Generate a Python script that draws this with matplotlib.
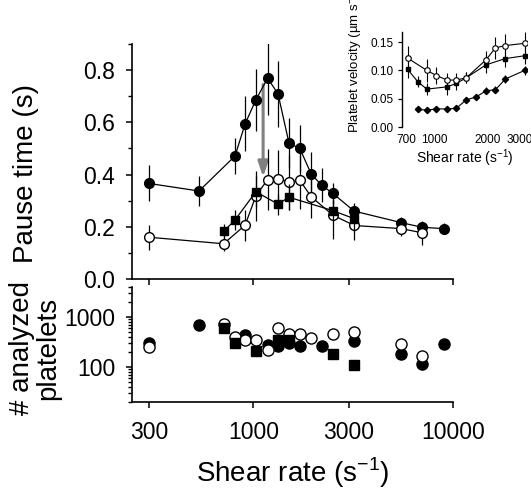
import numpy as np
import matplotlib
matplotlib.use("Agg")
import matplotlib.pyplot as plt
from matplotlib.ticker import FixedLocator, NullFormatter, LogLocator, NullLocator

plt.rcParams['font.family'] = ['Liberation Sans', 'DejaVu Sans']

# -------------------------
# Data: pause time (top panel)
# -------------------------
filled_x = [300, 535, 810, 910, 1030, 1180, 1330, 1510, 1710, 1950, 2200, 2500, 3200, 5500, 7000, 9000]
filled_y = [0.366, 0.337, 0.471, 0.594, 0.686, 0.769, 0.709, 0.52, 0.50, 0.402, 0.359, 0.328, 0.26, 0.216, 0.198, 0.193]
filled_err = [0.069, 0.059, 0.069, 0.105, 0.12, 0.14, 0.126, 0.095, 0.09, 0.085, 0.065, 0.04, 0.03, 0.02, 0.02, 0.02]

open_x = [300, 710, 910, 1030, 1180, 1330, 1510, 1710, 1950, 2500, 3200, 5500, 7000]
open_y = [0.16, 0.135, 0.206, 0.318, 0.381, 0.384, 0.371, 0.378, 0.315, 0.245, 0.205, 0.193, 0.177]
open_err = [0.048, 0.028, 0.059, 0.097, 0.115, 0.11, 0.105, 0.11, 0.083, 0.09, 0.055, 0.03, 0.045]

sq_x = [710, 810, 1030, 1330, 1510, 2500, 3200]
sq_y = [0.182, 0.226, 0.334, 0.287, 0.313, 0.262, 0.231]
sq_err = [0.027, 0.038, 0.06, 0.04, 0.05, 0.04, 0.05]

# -------------------------
# Data: analyzed platelets (bottom panel)
# -------------------------
n_filled_x = [300, 535, 910, 1180, 1330, 1510, 1710, 2200, 3200, 5500, 7000, 9000]
n_filled_y = [302, 692, 431, 272, 259, 302, 259, 259, 331, 185, 113, 284]
n_open_x = [300, 710, 810, 910, 1030, 1180, 1330, 1510, 1710, 1950, 2500, 3200, 5500, 7000]
n_open_y = [251, 714, 398, 353, 342, 223, 614, 466, 466, 380, 466, 501, 284, 164]
n_sq_x = [710, 810, 1030, 1330, 1510, 2500, 3200]
n_sq_y = [614, 302, 206, 353, 353, 185, 108]

# -------------------------
# Data: inset platelet velocity
# -------------------------
in_open_x = [710, 910, 1030, 1180, 1330, 1510, 1950, 2200, 2500, 3200]
in_open_y = [0.122, 0.100, 0.091, 0.083, 0.083, 0.087, 0.119, 0.140, 0.144, 0.148]
in_open_err = [0.022, 0.02, 0.015, 0.012, 0.012, 0.01, 0.015, 0.02, 0.02, 0.02]
in_sq_x = [710, 810, 910, 1180, 1330, 1510, 1950, 2500, 3200]
in_sq_y = [0.102, 0.080, 0.067, 0.071, 0.077, 0.087, 0.110, 0.121, 0.126]
in_sq_err = [0.015, 0.01, 0.01, 0.015, 0.012, 0.01, 0.015, 0.015, 0.015]
in_dia_x = [810, 910, 1030, 1180, 1330, 1510, 1710, 1950, 2200, 2500, 3200]
in_dia_y = [0.031, 0.030, 0.032, 0.032, 0.033, 0.048, 0.053, 0.064, 0.066, 0.085, 0.100]
in_dia_err = [0.005, 0.004, 0.004, 0.004, 0.004, 0.005, 0.005, 0.006, 0.006, 0.007, 0.008]

x_ticks = [300, 1000, 3000, 10000]
x_ticklabels = ["300", "1000", "3000", "10000"]

# -------------------------
# Figure
# -------------------------
W, H = 531, 497
fig = plt.figure(figsize=(W / 100, H / 100), dpi=100)


def box(x0, y0, x1, y1):
    return [x0 / W, 1 - y1 / H, (x1 - x0) / W, (y1 - y0) / H]


ax = fig.add_axes(box(132, 44, 453, 279))
axn = fig.add_axes(box(132, 287, 453, 402))
axi = fig.add_axes(box(402, 32, 527, 127))

for a in (ax, axn, axi):
    a.spines["top"].set_visible(False)
    a.spines["right"].set_visible(False)
    a.set_xscale("log")

eb = dict(color="black", lw=0.9, elinewidth=0.9, capsize=0)

# top panel
ax.errorbar(filled_x, filled_y, yerr=filled_err, marker="o", ms=7, mfc="black", mec="black", zorder=3, **eb)
ax.errorbar(open_x, open_y, yerr=open_err, marker="o", ms=7, mfc="white", mec="black", mew=1, zorder=4, **eb)
ax.errorbar(sq_x, sq_y, yerr=sq_err, marker="s", ms=6, mfc="black", mec="black", zorder=5, **eb)

ax.annotate("", xy=(1120, 0.39), xytext=(1120, 0.745),
            arrowprops=dict(arrowstyle="-|>,head_width=0.3,head_length=0.9",
                            color="#808080", lw=2.2, shrinkA=0, shrinkB=0), zorder=1)

ax.set_xlim(247, 10000)
ax.set_ylim(0, 0.9)
ax.set_yticks([0.0, 0.2, 0.4, 0.6, 0.8])
ax.set_yticklabels(["0.0", "0.2", "0.4", "0.6", "0.8"])
ax.yaxis.set_minor_locator(FixedLocator([0.1, 0.3, 0.5, 0.7, 0.9]))
ax.xaxis.set_major_locator(FixedLocator(x_ticks))
ax.xaxis.set_major_formatter(NullFormatter())
ax.xaxis.set_minor_locator(NullLocator())
ax.set_ylabel("Pause time (s)", fontsize=20)
ax.yaxis.set_label_coords(-0.29, 0.45)

# bottom panel
axn.plot(n_filled_x, n_filled_y, "o", ms=8, mfc="black", mec="black", zorder=3)
axn.plot(n_open_x, n_open_y, "o", ms=8, mfc="white", mec="black", mew=1, zorder=4)
axn.plot(n_sq_x, n_sq_y, "s", ms=7, mfc="black", mec="black", zorder=5)
axn.set_yscale("log")
axn.set_xlim(247, 10000)
axn.set_ylim(20, 4000)
axn.yaxis.set_major_locator(FixedLocator([100, 1000]))
axn.set_yticklabels(["100", "1000"])
axn.yaxis.set_minor_locator(LogLocator(base=10, subs=np.arange(2, 10)))
axn.yaxis.set_minor_formatter(NullFormatter())
axn.xaxis.set_major_locator(FixedLocator(x_ticks))
axn.set_xticklabels(x_ticklabels)
axn.xaxis.set_minor_locator(NullLocator())
axn.set_xlabel("Shear rate (s$^{\\mathregular{-1}}$)", fontsize=20, labelpad=8)
axn.set_ylabel("# analyzed\nplatelets", fontsize=20, linespacing=1.0)
axn.yaxis.set_label_coords(-0.22, 0.47)

for a in (ax, axn):
    for s in a.spines.values():
        s.set_linewidth(1.2)
    a.tick_params(which="major", length=4, width=1.1, labelsize=16.5, pad=8)
    a.tick_params(which="minor", length=3, width=1.0)
axn.tick_params(axis="x", pad=10)

# inset
ie = dict(color="black", lw=0.8, elinewidth=0.8, capsize=0)
axi.errorbar(in_dia_x, in_dia_y, yerr=in_dia_err, marker="D", ms=3.2, mfc="black", mec="black", zorder=3, **ie)
axi.errorbar(in_sq_x, in_sq_y, yerr=in_sq_err, marker="s", ms=3.5, mfc="black", mec="black", zorder=4, **ie)
axi.errorbar(in_open_x, in_open_y, yerr=in_open_err, marker="o", ms=4, mfc="white", mec="black", mew=0.8, zorder=5, **ie)
axi.set_xlim(661, 3300)
axi.set_ylim(0, 0.168)
axi.set_yticks([0.0, 0.05, 0.10, 0.15])
axi.set_yticklabels(["0.00", "0.05", "0.10", "0.15"])
axi.xaxis.set_major_locator(FixedLocator([700, 1000, 2000, 3000]))
axi.set_xticklabels(["700", "1000", "2000", "3000"])
axi.xaxis.set_minor_locator(NullLocator())
axi.spines["bottom"].set_visible(False)
axi.spines["left"].set_linewidth(1.0)
axi.tick_params(axis="y", length=3, width=0.9, labelsize=8.5, pad=3)
axi.tick_params(axis="x", length=0, labelsize=8.5, pad=5)
axi.set_xlabel("Shear rate (s$^{\\mathregular{-1}}$)", fontsize=10, labelpad=1)
axi.set_ylabel("Platelet velocity (\u00b5m s$^{\\mathregular{-1}}$)", fontsize=9.5)
axi.yaxis.set_label_coords(-0.30, 0.7)

fig.savefig("out.png", dpi=100)
